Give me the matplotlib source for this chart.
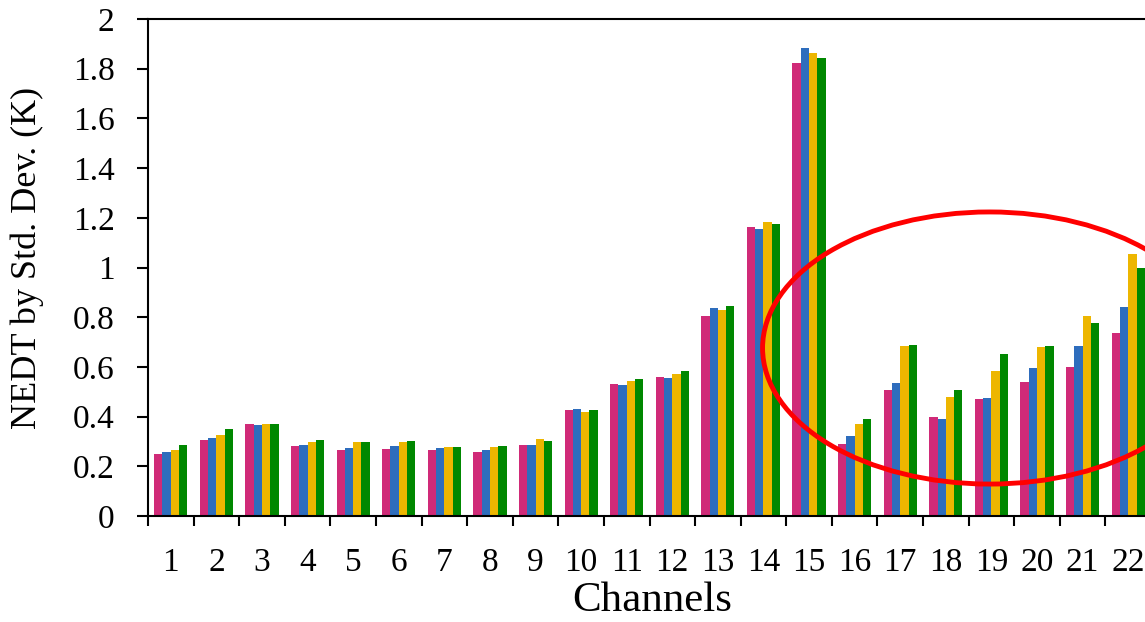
import matplotlib.pyplot as plt
from matplotlib.patches import Ellipse
import numpy as np

plt.rcParams["font.family"] = ["Liberation Serif", "DejaVu Serif"]

channels = list(range(1, 23))
series_a = [0.25, 0.306, 0.369, 0.28, 0.266, 0.27, 0.266, 0.256, 0.284, 0.427, 0.532,
            0.56, 0.806, 1.163, 1.822, 0.29, 0.507, 0.398, 0.47, 0.538, 0.601, 0.738]
series_b = [0.259, 0.315, 0.367, 0.287, 0.275, 0.28, 0.275, 0.264, 0.286, 0.431, 0.529,
            0.557, 0.836, 1.155, 1.882, 0.322, 0.537, 0.389, 0.476, 0.594, 0.685, 0.84]
series_c = [0.266, 0.327, 0.371, 0.298, 0.298, 0.298, 0.276, 0.277, 0.308, 0.419, 0.544,
            0.571, 0.83, 1.183, 1.862, 0.37, 0.685, 0.478, 0.583, 0.679, 0.805, 1.054]
series_d = [0.284, 0.35, 0.371, 0.305, 0.297, 0.30, 0.279, 0.282, 0.303, 0.425, 0.55,
            0.582, 0.846, 1.175, 1.842, 0.392, 0.687, 0.506, 0.652, 0.685, 0.775, 1.0]
colors = ["#D02A78", "#2E6DBD", "#EDB600", "#008800"]

fig = plt.figure(figsize=(11.45, 6.22), dpi=100)
ax = fig.add_axes([148 / 1145, 106 / 622, 1003 / 1145, 497 / 622])

x = np.array(channels)
w = 0.182
for k, (vals, c) in enumerate(zip([series_a, series_b, series_c, series_d], colors)):
    ax.bar(x + (k - 1.5) * w, vals, width=w, color=c, edgecolor="none")

ax.set_xlim(0.5, 22.5)
ax.set_ylim(0, 2)
ax.set_yticks(np.arange(0, 2.01, 0.2))
ax.set_yticklabels(["0", "0.2", "0.4", "0.6", "0.8", "1", "1.2", "1.4", "1.6", "1.8", "2"])
ax.set_xticks(np.arange(0.5, 23, 1))
ax.set_xticklabels([])
ax.set_xticks(x, minor=True)
ax.set_xticklabels([str(c) for c in channels], minor=True)
ax.tick_params(axis="x", which="minor", length=0, labelsize=24, pad=23)
ax.tick_params(axis="x", which="major", direction="out", length=7, width=1.5)
ax.tick_params(axis="y", direction="out", length=8, width=1.5, labelsize=24, pad=16)
for s in ["left", "bottom", "top"]:
    ax.spines[s].set_linewidth(1.5)
ax.spines["right"].set_visible(False)

# axis titles placed in figure coordinates
fig.text(652 / 1145, 1 - 611 / 622, "Channels", fontsize=31, ha="center", va="baseline")
fig.text(27 / 1145, 1 - 258 / 622, "NEDT by Std. Dev. (K)", fontsize=26,
         rotation=90, ha="center", va="center")

ax.add_patch(Ellipse((18.96, 0.676), 9.96, 1.095, fill=False, edgecolor="red",
                     linewidth=3.5, clip_on=False))

fig.savefig("out.png", dpi=100)
